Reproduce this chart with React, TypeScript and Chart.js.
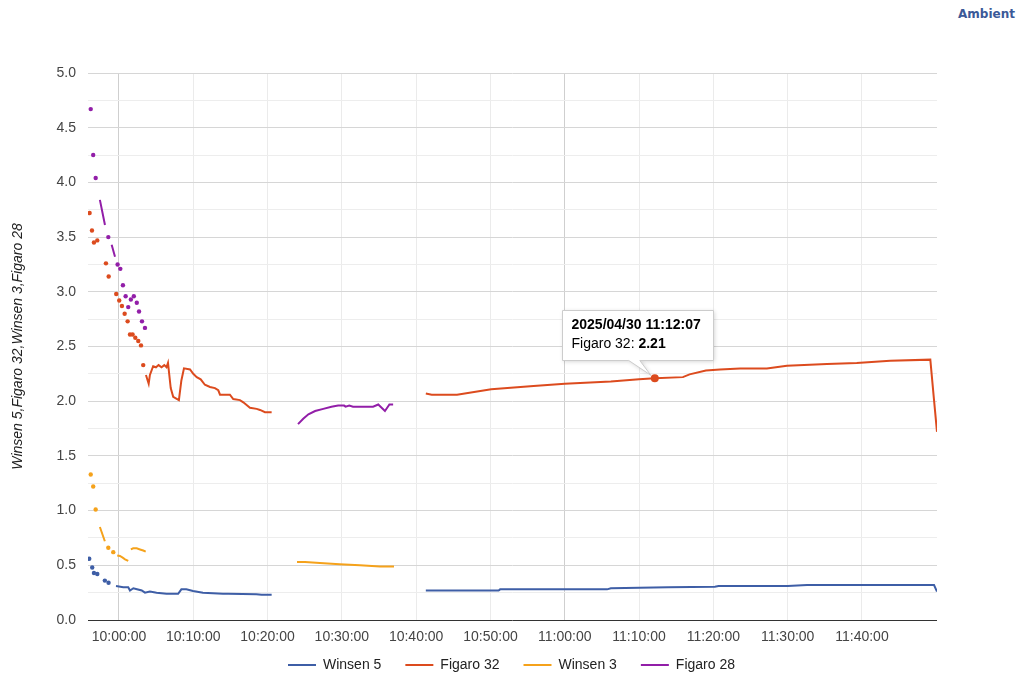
import React, { useEffect, useRef } from "react";
import { Chart, registerables } from "chart.js";

Chart.register(...registerables);

const PAGE_TITLE = "Ambient";
const Y_TITLE = "Winsen 5,Figaro 32,Winsen 3,Figaro 28";
const SERIES_NAMES = ["Winsen 5", "Figaro 32", "Winsen 3", "Figaro 28"];
const SERIES_COLORS = ["#3e5ea6", "#dc4b1e", "#f5a21b", "#921ea8"];

const X_MIN = "09:55:50";
const X_MAX = "11:50:06";
const X_TICK_STEP_SECONDS = 600;
const Y_MIN = 0;
const Y_MAX = 5;
const Y_GRID_STEP = 0.25;
const Y_LABEL_STEP = 0.5;

const TOOLTIP_DATE = "2025/04/30";
const TOOLTIP_TIME = "11:12:07";
const TOOLTIP_SERIES = "Figaro 32";
const TOOLTIP_VALUE = 2.21;

// null = gap in the series
const WINSEN5_TIMES = [
  "09:56:00", null, "09:56:24", null, "09:56:38", null, "09:57:05", null, "09:58:06", null, "09:58:36", null,
  "09:59:36", "10:00:35", "10:01:15", "10:01:29", "10:01:56", "10:03:04", "10:03:30", "10:04:10", "10:05:04",
  "10:06:24", "10:07:58", "10:08:24", "10:09:04", "10:09:58", "10:11:18", "10:14:00", "10:14:42", "10:18:30",
  "10:19:12", "10:20:33", null,
  "10:41:18", "10:44:54", "10:51:06", "10:51:18", "11:05:42", "11:06:12", "11:13:54", "11:20:12", "11:20:42",
  "11:30:00", "11:32:36", "11:49:42", "11:50:06",
];
const WINSEN5_VALUES = [
  0.56, null, 0.48, null, 0.43, null, 0.42, null, 0.36, null, 0.34, null,
  0.31, 0.30, 0.30, 0.27, 0.29, 0.27, 0.25, 0.26, 0.25,
  0.24, 0.24, 0.28, 0.28, 0.265, 0.25, 0.24, 0.24, 0.235,
  0.23, 0.23, null,
  0.27, 0.27, 0.27, 0.28, 0.28, 0.29, 0.30, 0.305, 0.31,
  0.31, 0.32, 0.32, 0.26,
];

const FIGARO32_TIMES = [
  "09:56:03", null, "09:56:22", null, "09:56:38", null, "09:57:05", null, "09:58:15", null, "09:58:37", null,
  "09:59:38", null, "10:00:02", null, "10:00:24", null, "10:00:46", null, "10:01:10", null, "10:01:29", null,
  "10:01:50", null, "10:02:12", null, "10:02:36", null, "10:02:58", null, "10:03:16", null,
  "10:03:38", "10:04:00", "10:04:10", "10:04:36", "10:04:59", "10:05:20", "10:05:44", "10:06:06", "10:06:24",
  "10:06:36", "10:06:58", "10:07:18", "10:08:04", "10:08:24", "10:08:45", "10:09:34", "10:10:00", "10:10:28",
  "10:11:00", "10:11:34", "10:12:15", "10:12:55", "10:13:22", "10:13:36", "10:14:56", "10:15:23", "10:16:17",
  "10:16:44", "10:17:38", "10:18:32", "10:18:59", "10:19:39", "10:20:33", null,
  "10:41:18", "10:42:06", "10:45:30", "10:50:06", "10:55:48", "11:00:00", "11:06:12", "11:10:00", "11:12:07",
  "11:15:54", "11:16:48", "11:19:00", "11:20:54", "11:23:36", "11:27:12", "11:29:54", "11:35:18", "11:39:18",
  "11:43:48", "11:49:12", "11:49:42", "11:50:06",
];
const FIGARO32_VALUES = [
  3.72, null, 3.56, null, 3.45, null, 3.47, null, 3.26, null, 3.14, null,
  2.98, null, 2.92, null, 2.87, null, 2.80, null, 2.73, null, 2.61, null,
  2.61, null, 2.58, null, 2.55, null, 2.51, null, 2.33, null,
  2.24, 2.16, 2.24, 2.32, 2.31, 2.33, 2.31, 2.33, 2.31,
  2.35, 2.12, 2.04, 2.01, 2.19, 2.30, 2.29, 2.25, 2.22,
  2.20, 2.15, 2.13, 2.12, 2.10, 2.06, 2.06, 2.02, 2.01,
  1.99, 1.94, 1.93, 1.92, 1.90, 1.90, null,
  2.07, 2.06, 2.06, 2.11, 2.14, 2.16, 2.18, 2.20, 2.21,
  2.22, 2.245, 2.28, 2.29, 2.30, 2.30, 2.325, 2.34, 2.35,
  2.37, 2.38, 2.01, 1.72,
];

const WINSEN3_TIMES = [
  "09:56:12", null, "09:56:32", null, "09:56:52", null, "09:57:26", "09:58:06", null, "09:58:34", null,
  "09:59:14", null, "09:59:46", "10:00:08", "10:00:30", "10:00:49", "10:01:15", null,
  "10:01:36", "10:01:55", "10:02:23", "10:02:50", "10:03:16", "10:03:36", null,
  "10:23:58", "10:25:02", "10:27:03", "10:29:42", "10:32:26", "10:35:08", "10:37:01",
];
const WINSEN3_VALUES = [
  1.33, null, 1.22, null, 1.01, null, 0.85, 0.72, null, 0.66, null,
  0.62, null, 0.59, 0.585, 0.57, 0.555, 0.54, null,
  0.645, 0.655, 0.655, 0.645, 0.635, 0.625, null,
  0.53, 0.53, 0.52, 0.51, 0.50, 0.49, 0.49,
];

const FIGARO28_TIMES = [
  "09:56:12", null, "09:56:32", null, "09:56:52", null, "09:57:26", "09:58:07", null, "09:58:34", null,
  "09:59:01", "09:59:28", null, "09:59:49", null, "10:00:11", null, "10:00:32", null, "10:00:54", null,
  "10:01:15", null, "10:01:36", null, "10:02:00", null, "10:02:24", null, "10:02:42", null, "10:03:06", null,
  "10:03:30", null,
  "10:24:06", "10:24:48", "10:25:30", "10:26:24", "10:27:30", "10:28:36", "10:29:30", "10:30:18", "10:30:30",
  "10:31:00", "10:31:30", "10:34:12", "10:34:54", "10:35:48", "10:36:24", "10:36:54",
];
const FIGARO28_VALUES = [
  4.67, null, 4.25, null, 4.04, null, 3.84, 3.61, null, 3.50, null,
  3.43, 3.32, null, 3.25, null, 3.21, null, 3.06, null, 2.96, null,
  2.86, null, 2.93, null, 2.96, null, 2.90, null, 2.82, null, 2.73, null,
  2.67, null,
  1.79, 1.84, 1.88, 1.91, 1.93, 1.95, 1.96, 1.96, 1.95,
  1.96, 1.95, 1.95, 1.97, 1.91, 1.97, 1.97,
];

const SERIES_TIMES = [WINSEN5_TIMES, FIGARO32_TIMES, WINSEN3_TIMES, FIGARO28_TIMES];
const SERIES_VALUES = [WINSEN5_VALUES, FIGARO32_VALUES, WINSEN3_VALUES, FIGARO28_VALUES];

const FONT = "'Liberation Sans', Arial, sans-serif";

function toSec(t: string): number {
  const [h, m, s] = t.split(":").map(Number);
  return h * 3600 + m * 60 + s;
}
function fmtSec(v: number): string {
  const h = Math.floor(v / 3600);
  const m = Math.floor((v % 3600) / 60);
  const s = Math.round(v % 60);
  const p = (n: number) => String(n).padStart(2, "0");
  return `${p(h)}:${p(m)}:${p(s)}`;
}
function toPoints(times: (string | null)[], values: (number | null)[]) {
  let last = 0;
  return times.map((t, i) => {
    if (t !== null) last = toSec(t);
    return { x: last, y: values[i] };
  });
}
const isMajorY = (v: number) => Math.abs(v / Y_LABEL_STEP - Math.round(v / Y_LABEL_STEP)) < 1e-6;

// moves the top of the bottom legend up so its row sits just under the x tick labels
const legendShiftPlugin = {
  id: "legendShift",
  afterLayout(chart: any) {
    const lg = chart.legend;
    if (!lg) return;
    lg.top -= 16;
    lg.height = lg.bottom - lg.top;
  },
};

const tooltipPlugin = {
  id: "fixedTooltip",
  afterDatasetsDraw(chart: any) {
    const { ctx, scales } = chart;
    const px = scales.x.getPixelForValue(toSec(TOOLTIP_TIME));
    const py = scales.y.getPixelForValue(TOOLTIP_VALUE);
    const color = SERIES_COLORS[SERIES_NAMES.indexOf(TOOLTIP_SERIES)];
    ctx.save();
    ctx.beginPath();
    ctx.arc(px, py, 4, 0, Math.PI * 2);
    ctx.fillStyle = color;
    ctx.fill();

    const bx = Math.round(px - 93) + 0.5;
    const by = Math.round(py - 68) + 0.5;
    const bw = 151;
    const bh = 50;
    ctx.beginPath();
    ctx.moveTo(bx, by);
    ctx.lineTo(bx + bw, by);
    ctx.lineTo(bx + bw, by + bh);
    ctx.lineTo(px - 15, by + bh);
    ctx.lineTo(px - 4, py - 3);
    ctx.lineTo(px - 26, by + bh);
    ctx.lineTo(bx, by + bh);
    ctx.closePath();
    ctx.shadowColor = "rgba(0,0,0,0.18)";
    ctx.shadowBlur = 4;
    ctx.shadowOffsetX = 1;
    ctx.shadowOffsetY = 1;
    ctx.fillStyle = "#ffffff";
    ctx.fill();
    ctx.shadowColor = "transparent";
    ctx.strokeStyle = "#cccccc";
    ctx.lineWidth = 1;
    ctx.stroke();

    ctx.fillStyle = "#000000";
    ctx.textBaseline = "middle";
    ctx.textAlign = "left";
    ctx.font = `bold 14px ${FONT}`;
    ctx.fillText(`${TOOLTIP_DATE} ${TOOLTIP_TIME}`, bx + 9, by + 15);
    ctx.font = `14px ${FONT}`;
    const label = `${TOOLTIP_SERIES}: `;
    ctx.fillText(label, bx + 9, by + 34);
    const w = ctx.measureText(label).width;
    ctx.font = `bold 14px ${FONT}`;
    ctx.fillText(TOOLTIP_VALUE.toFixed(2), bx + 9 + w, by + 34);
    ctx.restore();
  },
};

export default function App() {
  const canvasRef = useRef<HTMLCanvasElement | null>(null);

  useEffect(() => {
    if (!canvasRef.current) return;
    const datasets = SERIES_NAMES.map((name, i) => ({
      label: name,
      data: toPoints(SERIES_TIMES[i], SERIES_VALUES[i]),
      borderColor: SERIES_COLORS[i],
      backgroundColor: SERIES_COLORS[i],
      borderWidth: 2,
      tension: 0,
      fill: false,
      spanGaps: false,
      pointBorderWidth: 0,
      pointHoverRadius: 0,
      pointRadius: (c: any) => {
        const d = c.dataset.data;
        const k = c.dataIndex;
        if (!d[k] || d[k].y == null) return 0;
        const prev = d[k - 1];
        const next = d[k + 1];
        const iso = (!prev || prev.y == null) && (!next || next.y == null);
        return iso ? 2.2 : 0;
      },
    }));

    const chart = new Chart(canvasRef.current, {
      type: "line",
      data: { datasets },
      plugins: [tooltipPlugin, legendShiftPlugin],
      options: {
        animation: false,
        responsive: true,
        maintainAspectRatio: false,
        events: [],
        layout: { padding: { top: 73, left: 0, right: 0, bottom: 0 } },
        plugins: {
          tooltip: { enabled: false },
          title: { display: false },
          legend: {
            position: "bottom",
            maxHeight: 27,
            labels: {
              usePointStyle: true,
              pointStyle: "line",
              pointStyleWidth: 28,
              padding: 24,
              color: "#222222",
              font: { size: 14, family: FONT },
              generateLabels: (ch: any) =>
                ch.data.datasets.map((ds: any, i: number) => ({
                  text: ds.label,
                  fillStyle: SERIES_COLORS[i],
                  strokeStyle: SERIES_COLORS[i],
                  lineWidth: 2,
                  pointStyle: "line",
                  hidden: false,
                  datasetIndex: i,
                  fontColor: "#222222",
                })),
            },
          },
        },
        scales: {
          x: {
            type: "linear",
            min: toSec(X_MIN),
            max: toSec(X_MAX),
            afterBuildTicks: (scale: any) => {
              const t: { value: number }[] = [];
              for (
                let v = Math.ceil(scale.min / X_TICK_STEP_SECONDS) * X_TICK_STEP_SECONDS;
                v <= scale.max - 60;
                v += X_TICK_STEP_SECONDS
              ) t.push({ value: v });
              scale.ticks = t;
            },
            afterFit: (scale: any) => {
              scale.height = 30;
            },
            ticks: {
              autoSkip: false,
              maxRotation: 0,
              padding: 9,
              color: "#444444",
              font: { size: 14, family: FONT },
              callback: (v: any) => fmtSec(Number(v)),
            },
            grid: {
              drawTicks: false,
              color: (c: any) => (c.tick && c.tick.value % 3600 === 0 ? "#cfcfcf" : "#ebebeb"),
            },
            border: { display: false },
          },
          y: {
            type: "linear",
            position: "left",
            min: Y_MIN,
            max: Y_MAX,
            afterFit: (scale: any) => {
              scale.width = 88;
            },
            ticks: {
              stepSize: Y_GRID_STEP,
              autoSkip: false,
              padding: 12,
              color: "#444444",
              font: { size: 14, family: FONT },
              callback: (v: any) => (isMajorY(Number(v)) ? Number(v).toFixed(1) : ""),
            },
            grid: {
              drawTicks: false,
              color: (c: any) => {
                const v = c.tick ? c.tick.value : 1;
                if (Math.abs(v) < 1e-9) return "#333333";
                return isMajorY(v) ? "#d6d6d6" : "#ededed";
              },
            },
            border: { display: false },
            title: {
              display: true,
              text: Y_TITLE,
              color: "#222222",
              font: { size: 14, style: "italic", family: FONT },
              padding: { top: 10, bottom: 0 },
            },
          },
          yRight: {
            type: "linear",
            position: "right",
            display: true,
            afterFit: (scale: any) => {
              scale.width = 86;
            },
            ticks: { display: false },
            grid: { display: false },
            border: { display: false },
          },
        },
      } as any,
    });
    return () => chart.destroy();
  }, []);

  return (
    <div style={{ position: "fixed", left: 0, top: 0, width: 1023, height: 677, background: "#ffffff" }}>
      <div
        style={{
          position: "absolute",
          right: 8,
          top: 7,
          fontFamily: "'DejaVu Sans', Verdana, sans-serif",
          fontWeight: "bold",
          fontSize: 12,
          color: "#3b5998",
        }}
      >
        {PAGE_TITLE}
      </div>
      <div style={{ position: "absolute", left: 0, top: 0, width: 1023, height: 677 }}>
        <canvas ref={canvasRef} />
      </div>
    </div>
  );
}
